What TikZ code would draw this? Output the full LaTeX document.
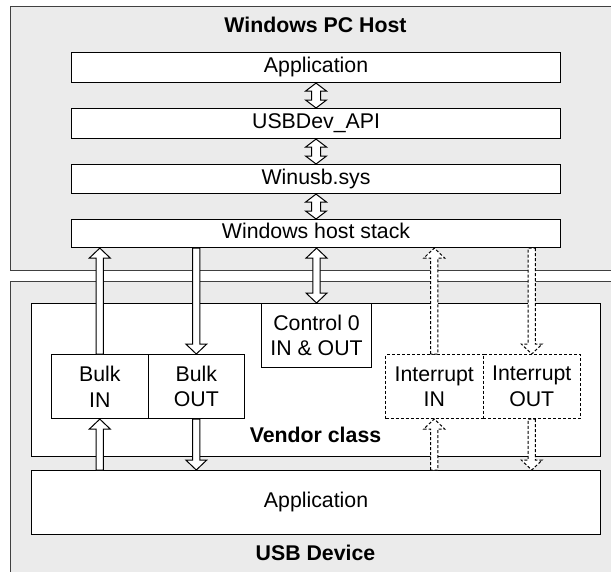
\documentclass[tikz,border=0pt]{standalone}
\usepackage{fontspec}
\setmainfont{Liberation Sans}
\usetikzlibrary{calc}
\begin{document}
\begin{tikzpicture}[x=1pt,y=-1pt,
  every node/.style={font=\fontsize{21.3}{25.6}\selectfont, inner sep=0pt},
  titlefont/.style={font=\fontsize{21.3}{25.6}\selectfont\bfseries, anchor=base},
  outerbox/.style={draw=black!75, line width=1pt, fill=black!8, anchor=north west},
  box/.style={draw=black, line width=1.1pt, fill=white, anchor=north west},
  dbox/.style={box, dash pattern=on 3pt off 2pt, line width=1pt},
  one/.style={text height=15pt, text depth=4.4pt},
  multi/.style={align=center},
  blk/.style n args={3}{draw=black, line width=1pt, fill=white, to path={
    let \p1=(\tikztostart), \p2=(\tikztotarget), \p3=($(\p2)!#1!(\p1)$) in
    ($(\p1)!#3!90:(\p2)$) -- ($(\p3)!#3!-90:(\p1)$) -- ($(\p3)!#2!-90:(\p1)$)
    -- (\p2) -- ($(\p3)!#2!90:(\p1)$) -- ($(\p3)!#3!90:(\p1)$)
    -- ($(\p1)!#3!-90:(\p2)$) -- cycle}},
  dblk/.style n args={3}{draw=black, line width=1pt, fill=white, to path={
    let \p1=(\tikztostart), \p2=(\tikztotarget), \p3=($(\p1)!#1!(\p2)$), \p4=($(\p2)!#1!(\p1)$) in
    (\p1) -- ($(\p3)!#2!90:(\p2)$) -- ($(\p3)!#3!90:(\p2)$) -- ($(\p4)!#3!-90:(\p1)$)
    -- ($(\p4)!#2!-90:(\p1)$) -- (\p2) -- ($(\p4)!#2!90:(\p1)$) -- ($(\p4)!#3!90:(\p1)$)
    -- ($(\p3)!#3!-90:(\p2)$) -- ($(\p3)!#2!-90:(\p2)$) -- cycle}},
  bigarrow/.style={blk={10pt}{10.5pt}{3.6pt}},
  bigdarrow/.style={dblk={10pt}{10.5pt}{3.6pt}},
  smalldarrow/.style={dblk={8pt}{10.5pt}{4.5pt}},
  dashedarrow/.style={bigarrow, dash pattern=on 3pt off 2pt},
]
\fill[white] (0,0) rectangle (611,571);
\useasboundingbox (0,0) rectangle (611,571);

% containers
\node[outerbox, minimum width=620pt, minimum height=264pt] (host) at (10,6) {};
\node[outerbox, minimum width=620pt, minimum height=300pt] (device) at (10,281) {};
\node[titlefont] (hosttitle) at (315.5,32.3) {Windows PC Host};

% host stack
\node[box, one, minimum width=489pt, minimum height=30pt] (happ) at (71,52) {Application};
\node[box, one, minimum width=489pt, minimum height=30pt] (api) at (71,108) {USBDev\_API};
\node[box, one, minimum width=489pt, minimum height=29pt] (winusb) at (71,164) {Winusb.sys};
\node[box, one, minimum width=489pt, minimum height=28pt] (stack) at (71,219) {Windows host stack};

% device
\node[box, minimum width=569pt, minimum height=153pt] (vendor) at (31,303) {};
\node[titlefont] (vendortitle) at (315.5,442.3) {Vendor class};
\node[box, multi, minimum width=110pt, minimum height=64pt] (ctrl) at (261,303) {Control 0\\IN \& OUT};
\node[box, multi, minimum width=96.5pt, minimum height=64pt] (bulkin) at (51,354) {Bulk\\IN};
\node[box, multi, minimum width=96.5pt, minimum height=64pt] (bulkout) at (147.5,354) {Bulk\\OUT};
\node[dbox, multi, minimum width=97.5pt, minimum height=64pt] (intin) at (385,354) {Interrupt\\IN};
\node[dbox, multi, minimum width=97.5pt, minimum height=64pt] (intout) at (482.5,354) {Interrupt\\OUT};
\node[box, one, minimum width=569pt, minimum height=64pt] (dapp) at (31,470) {Application};
\node[titlefont] (devicetitle) at (315.5,560) {USB Device};

% host internal arrows
\draw[smalldarrow] (happ.south) to (api.north);
\draw[smalldarrow] (api.south) to (winusb.north);
\draw[smalldarrow] (winusb.south) to (stack.north);

% host <-> device arrows
\coordinate (biT) at (bulkin.north |- stack.south);
\coordinate (boT) at (bulkout.north |- stack.south);
\coordinate (cT) at (ctrl.north |- stack.south);
\coordinate (iiT) at (intin.north |- stack.south);
\coordinate (ioT) at (intout.north |- stack.south);
\draw[bigarrow] (bulkin.north) to (biT);
\draw[bigarrow] (boT) to (bulkout.north);
\draw[bigdarrow] (cT) to (ctrl.north);
\draw[dashedarrow] (intin.north) to (iiT);
\draw[dashedarrow] (ioT) to (intout.north);

% endpoints <-> device application
\coordinate (biB) at (bulkin.south |- dapp.north);
\coordinate (boB) at (bulkout.south |- dapp.north);
\coordinate (iiB) at (intin.south |- dapp.north);
\coordinate (ioB) at (intout.south |- dapp.north);
\draw[bigarrow] (biB) to (bulkin.south);
\draw[bigarrow] (bulkout.south) to (boB);
\draw[dashedarrow] (iiB) to (intin.south);
\draw[dashedarrow] (intout.south) to (ioB);
\end{tikzpicture}
\end{document}
